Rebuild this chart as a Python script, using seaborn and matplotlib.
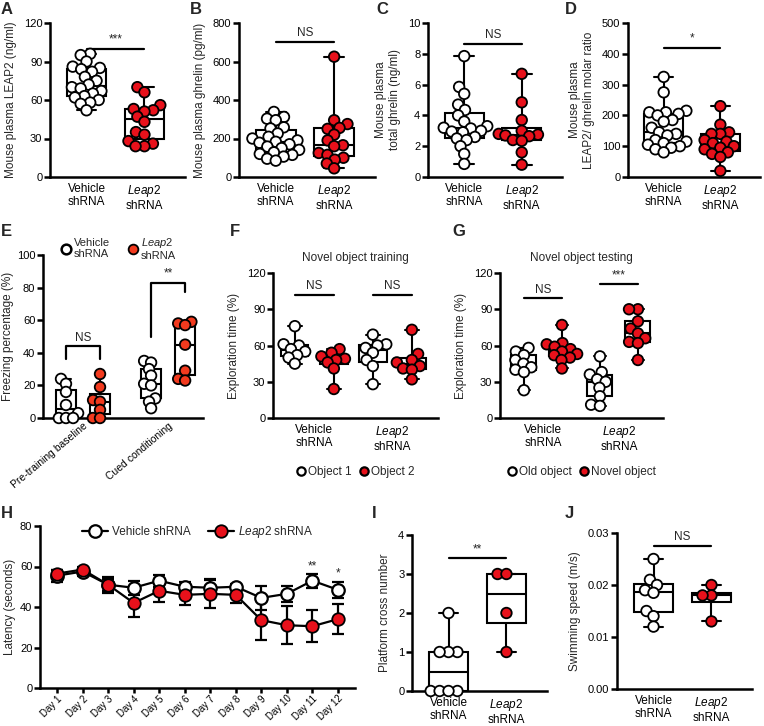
import warnings
import numpy as np
import pandas as pd
import matplotlib
matplotlib.use("Agg")
import matplotlib.pyplot as plt
from matplotlib.lines import Line2D
import seaborn as sns

warnings.filterwarnings("ignore")

RED = "#e8111b"
RED_E = "#f23a1e"

groups = ["Vehicle", "Leap2"]
group_labels = ["Vehicle\nshRNA", "$\\mathit{Leap2}$\nshRNA"]

# A - plasma LEAP2 (ng/ml)
leap2_veh = [96, 95, 90, 86, 85, 84, 82, 78, 75, 72, 70, 69, 67, 65, 63, 62, 60, 58, 57, 52]
leap2_kd = [70, 66, 56, 53, 52, 51, 47, 43, 35, 33, 28, 26, 24, 24]
# B - plasma ghrelin (pg/ml)
ghrelin_veh = [338, 312, 303, 295, 258, 252, 226, 209, 200, 190, 183, 178, 170, 158, 150,
               141, 128, 120, 115, 106, 95, 85]
ghrelin_kd = [625, 295, 275, 255, 250, 220, 190, 165, 160, 125, 115, 100, 90, 70, 45]
# C - total ghrelin (ng/ml)
total_veh = [7.85, 5.85, 5.4, 4.7, 4.35, 4.0, 3.6, 3.3, 3.2, 3.15, 3.0, 2.95, 2.9, 2.6, 2.5,
             2.4, 2.0, 1.5, 0.85]
total_kd = [6.7, 4.85, 3.7, 3.0, 2.8, 2.75, 2.7, 2.65, 2.4, 2.35, 1.6, 0.8]
# D - LEAP2 / ghrelin molar ratio
ratio_veh = [325, 275, 215, 210, 210, 205, 200, 185, 180, 160, 145, 140, 135, 120, 115, 110,
             105, 100, 95, 90, 80]
ratio_kd = [230, 170, 145, 140, 140, 120, 115, 110, 100, 95, 90, 80, 75, 65, 20]

# E - freezing
phases = ["Pre-training baseline", "Cued conditioning"]
freeze_pre_veh = [24, 21, 16, 8, 3, 0, 0, 0]
freeze_pre_kd = [27, 19, 11, 10, 5, 0, 0]
freeze_cued_veh = [35, 34, 30, 26, 21, 20, 12, 10, 6]
freeze_cued_kd = [59, 58, 57, 45, 29, 24, 23]

# F - novel object training
train_veh_obj1 = [76, 61, 60, 57, 55, 52, 50, 45]
train_veh_obj2 = [57, 54, 51, 49, 48, 46, 41, 24]
train_kd_obj1 = [69, 61, 60, 58, 54, 48, 43, 28]
train_kd_obj2 = [73, 53, 48, 46, 43, 41, 40, 32]

# G - novel object testing
test_veh_old = [58, 55, 52, 48, 45, 42, 40, 38, 23]
test_veh_novel = [77, 62, 61, 59, 57, 55, 53, 52, 50, 48, 41]
test_kd_old = [51, 38, 36, 32, 30, 25, 18, 11, 10]
test_kd_novel = [90, 90, 80, 74, 70, 66, 63, 62, 48]

# H - latency
days = [f"Day {i}" for i in range(1, 13)]
latency_veh = [55.5, 57.5, 51, 49.5, 53, 50, 49.5, 50, 44.5, 46.5, 53, 48.5]
latency_veh_sem = [3, 2, 3, 3.5, 3, 2.5, 4.5, 1.5, 6, 4, 3.5, 4]
latency_kd = [56.5, 58.5, 51, 42, 48, 46, 46.5, 46, 33.5, 31, 30.5, 34]
latency_kd_sem = [2, 1.5, 4, 7, 5.5, 5, 7, 4, 10, 9.5, 8, 7.5]

# I - platform crossing, J - swimming speed
cross_veh = [2, 1, 1, 1, 0, 0, 0, 0]
cross_kd = [3, 3, 2, 1]
speed_veh = [0.025, 0.021, 0.020, 0.019, 0.0185, 0.015, 0.014, 0.012]
speed_kd = [0.020, 0.018, 0.018, 0.013]

sns.set_theme(style="ticks")
plt.rcParams["font.family"] = ["Liberation Sans", "DejaVu Sans"]
plt.rcParams["mathtext.fontset"] = "custom"
plt.rcParams["mathtext.it"] = "Liberation Sans:italic"
plt.rcParams["mathtext.rm"] = "Liberation Sans"

W, H = 764, 726
fig = plt.figure(figsize=(W / 100, H / 100), dpi=100)

# swarm layout is computed with small dots, then dots are drawn bigger (points overlap)
SWARM_LAYOUT = 4.8
DOT = 7.6


def add_ax(x0, y0, x1, y1):
    return fig.add_axes([x0 / W, 1 - y1 / H, (x1 - x0) / W, (y1 - y0) / H])


def style(ax, xtick_len=0):
    sns.despine(ax=ax)
    for s in ["left", "bottom"]:
        ax.spines[s].set_linewidth(1.8)
        ax.spines[s].set_color("black")
    ax.tick_params(axis="y", width=1.8, length=4, labelsize=8, pad=1.5, colors="black")
    ax.tick_params(axis="x", width=1.8, length=xtick_len, labelsize=8.5, pad=4, colors="black")
    ax.set_xlabel("")
    ax.yaxis.label.set_size(8.5)
    for c in ax.collections:
        c.set_clip_on(False)


def sig_bar(ax, x0, x1, y, label, size=8.5):
    ax.plot([x0, x1], [y, y], color="black", lw=1.6, clip_on=False)
    ax.annotate(label, xy=((x0 + x1) / 2, y), xytext=(0, 2), textcoords="offset points",
                ha="center", va="bottom", fontsize=size)


def two_group(ax, veh, kd, yticks, ylabel, sig, sig_y):
    df = pd.DataFrame({"group": ["Vehicle"] * len(veh) + ["Leap2"] * len(kd),
                       "value": list(veh) + list(kd)})
    sns.boxplot(data=df, x="group", y="value", order=groups, whis=(0, 100), width=0.68,
                color="white", linecolor="black", linewidth=1.5, showfliers=False, ax=ax)
    sns.swarmplot(data=df, x="group", y="value", hue="group", order=groups,
                  palette={"Vehicle": "white", "Leap2": RED}, edgecolor="black",
                  linewidth=1.3, size=SWARM_LAYOUT, legend=False, ax=ax)
    ax.set_ylim(yticks[0], yticks[-1])
    ax.set_yticks(yticks)
    ax.set_xlim(-0.63, 1.7)
    ax.set_xticks([0, 1], group_labels)
    ax.set_ylabel(ylabel, labelpad=5)
    sig_bar(ax, 0, 1, sig_y, sig)
    style(ax)


# Row 1
axA = add_ax(50, 23, 185, 177)
two_group(axA, leap2_veh, leap2_kd, [0, 30, 60, 90, 120], "Mouse plasma LEAP2 (ng/ml)", "***", 100)
axB = add_ax(239, 23, 375, 177)
two_group(axB, ghrelin_veh, ghrelin_kd, [0, 200, 400, 600, 800], "Mouse plasma ghrelin (pg/ml)", "NS", 700)
axC = add_ax(428, 23, 562, 177)
two_group(axC, total_veh, total_kd, [0, 2, 4, 6, 8, 10], "Mouse plasma\ntotal ghrelin (ng/ml)", "NS", 8.65)
axD = add_ax(628, 23, 760, 177)
two_group(axD, ratio_veh, ratio_kd, [0, 100, 200, 300, 400, 500],
          "Mouse plasma\nLEAP2/ ghrelin molar ratio", "*", 420)

# E - freezing
axE = add_ax(43, 255, 203, 418)
df_e = pd.DataFrame({
    "phase": [phases[0]] * (len(freeze_pre_veh) + len(freeze_pre_kd))
    + [phases[1]] * (len(freeze_cued_veh) + len(freeze_cued_kd)),
    "group": ["Vehicle"] * len(freeze_pre_veh) + ["Leap2"] * len(freeze_pre_kd)
    + ["Vehicle"] * len(freeze_cued_veh) + ["Leap2"] * len(freeze_cued_kd),
    "value": freeze_pre_veh + freeze_pre_kd + freeze_cued_veh + freeze_cued_kd,
})
sns.boxplot(data=df_e, x="phase", y="value", hue="group", order=phases, hue_order=groups,
            whis=(0, 100), width=0.8, gap=0.42, palette={"Vehicle": "white", "Leap2": "white"},
            linecolor="black", linewidth=1.5, showfliers=False, legend=False, ax=axE)
sns.swarmplot(data=df_e, x="phase", y="value", hue="group", order=phases, hue_order=groups,
              dodge=True, palette={"Vehicle": "white", "Leap2": RED_E}, edgecolor="black",
              linewidth=1.3, size=3.6, legend=False, ax=axE)
axE.set_ylim(0, 100)
axE.set_yticks([0, 20, 40, 60, 80, 100])
axE.set_xlim(-0.47, 1.41)
axE.set_xticks([0, 1])
axE.set_xticklabels(phases, rotation=40, ha="right", rotation_mode="anchor")
axE.set_ylabel("Freezing percentage (%)", labelpad=2)
off = 0.2
axE.plot([-off, -off, off, off], [36, 44, 44, 36], color="black", lw=1.6)
axE.annotate("NS", xy=(0, 44), xytext=(0, 2), textcoords="offset points", ha="center",
             va="bottom", fontsize=8.5)
axE.plot([1 - off, 1 - off, 1 + off, 1 + off], [50, 83, 83, 77], color="black", lw=1.6)
axE.annotate("**", xy=(1, 83), xytext=(0, 2), textcoords="offset points", ha="center",
             va="bottom", fontsize=8.5)
handles_e = [Line2D([], [], marker="o", ls="none", ms=7, mfc="white", mec="black", mew=1.8),
             Line2D([], [], marker="o", ls="none", ms=7, mfc=RED_E, mec="black", mew=1.3)]
axE.legend(handles_e, group_labels, ncol=2, frameon=False, fontsize=8, loc="center",
           bbox_to_anchor=(0.47, 1.04), handletextpad=0.2, columnspacing=1.6,
           handlelength=1.0, borderaxespad=0)
style(axE)
axE.tick_params(axis="x", labelsize=7.5, pad=2)


def four_box(ax, data_sets, levels, names, colors, width, xlim, title, legend_y):
    rows = []
    for key, vals, lvl in zip(names, data_sets, levels):
        for v in vals:
            rows.append({"slot": key, "object": lvl, "value": v})
    df = pd.DataFrame(rows)
    sns.boxplot(data=df, x="slot", y="value", hue="object", order=names, dodge=False,
                whis=(0, 100), width=width, palette={lv: "white" for lv in colors},
                linecolor="black", linewidth=1.5, showfliers=False, legend=False, ax=ax)
    sns.swarmplot(data=df, x="slot", y="value", hue="object", order=names, palette=colors,
                  edgecolor="black", linewidth=1.3, size=SWARM_LAYOUT, legend=False, ax=ax)
    ax.set_ylim(0, 120)
    ax.set_yticks([0, 30, 60, 90, 120])
    ax.set_xlim(*xlim)
    ax.set_xticks([0.5, 2.5], group_labels)
    ax.set_ylabel("Exploration time (%)", labelpad=5)
    ax.set_title(title, fontsize=8.5, pad=9)
    handles = [Line2D([], [], marker="o", ls="none", ms=6, mfc=c, mec="black", mew=1.6)
               for c in colors.values()]
    ax.legend(handles, list(colors.keys()), ncol=2, frameon=False, fontsize=8.5, loc="center",
              bbox_to_anchor=(0.5, legend_y), handletextpad=0.2, columnspacing=0.6,
              handlelength=0.8, borderaxespad=0)
    style(ax)


# F - training
axF = add_ax(273, 273, 438, 418)
four_box(axF, [train_veh_obj1, train_veh_obj2, train_kd_obj1, train_kd_obj2],
         ["Object 1", "Object 2", "Object 1", "Object 2"],
         ["veh1", "veh2", "kd1", "kd2"], {"Object 1": "white", "Object 2": RED},
         0.7, (-0.56, 3.67), "Novel object training", -0.37)
sig_bar(axF, 0, 1, 102, "NS")
sig_bar(axF, 2, 3, 102, "NS")

# G - testing
axG = add_ax(500, 273, 663, 418)
four_box(axG, [test_veh_old, test_veh_novel, test_kd_old, test_kd_novel],
         ["Old object", "Novel object", "Old object", "Novel object"],
         ["veh1", "veh2", "kd1", "kd2"], {"Old object": "white", "Novel object": RED},
         0.66, (-0.63, 3.66), "Novel object testing", -0.37)
sig_bar(axG, 0, 1, 99, "NS")
sig_bar(axG, 2, 3, 111, "***")

# H - latency
axH = add_ax(40, 526, 355, 688)
day_idx = np.arange(len(days))
axH.errorbar(day_idx, latency_veh, yerr=latency_veh_sem, fmt="none", ecolor="black",
             elinewidth=1.6, capsize=4, capthick=1.6, zorder=2)
axH.errorbar(day_idx, latency_kd, yerr=latency_kd_sem, fmt="none", ecolor="black",
             elinewidth=1.6, capsize=4, capthick=1.6, zorder=2)
sns.lineplot(x=day_idx, y=latency_veh, color="black", lw=1.6, marker="o", ms=9,
             mfc="white", mec="black", mew=1.6, label="Vehicle shRNA", zorder=3, ax=axH)
sns.lineplot(x=day_idx, y=latency_kd, color="black", lw=1.6, marker="o", ms=9,
             mfc=RED, mec="black", mew=1.3, label="$\\mathit{Leap2}$ shRNA", zorder=4, ax=axH)
axH.set_ylim(0, 80)
axH.set_yticks([0, 20, 40, 60, 80])
axH.set_xlim(-0.67, 11.67)
axH.set_xticks(day_idx)
axH.set_xticklabels(days, rotation=45, ha="right", rotation_mode="anchor")
axH.set_ylabel("Latency (seconds)", labelpad=3)
axH.annotate("**", xy=(10, 57), ha="center", va="bottom", fontsize=8.5)
axH.annotate("*", xy=(11, 53.5), ha="center", va="bottom", fontsize=8.5)
axH.legend(ncol=2, frameon=False, fontsize=8.5, loc="upper center", bbox_to_anchor=(0.5, 1.04),
           handlelength=2.2, handletextpad=0.3, columnspacing=1.5, borderaxespad=0)
style(axH, xtick_len=3.5)
axH.tick_params(axis="x", labelsize=7, pad=0.5)

# I, J
axI = add_ax(412, 535, 547, 691)
two_group(axI, cross_veh, cross_kd, [0, 1, 2, 3, 4], "Platform cross number", "**", 3.4)
axJ = add_ax(617, 533, 752, 689)
two_group(axJ, speed_veh, speed_kd, [0.0, 0.01, 0.02, 0.03], "Swimming speed (m/s)", "NS", 0.0275)
axJ.yaxis.set_major_formatter(matplotlib.ticker.FormatStrFormatter("%.2f"))

# panel letters
for letter, x, y in [("A", 1, 10), ("B", 190, 10), ("C", 376, 10), ("D", 565, 10),
                     ("E", 1, 232), ("F", 230, 232), ("G", 452, 232),
                     ("H", 1, 513), ("I", 372, 513), ("J", 565, 513)]:
    fig.text(x / W, 1 - y / H, letter, fontsize=12, fontweight="bold", ha="left", va="center")

# lay the swarms out once with the small dots, then keep positions and enlarge the dots
fig.canvas.draw()
for ax in fig.axes:
    for c in ax.collections:
        if "draw" in c.__dict__:
            del c.draw
            c.set_sizes([DOT ** 2])

fig.savefig("out.png", dpi=100)
